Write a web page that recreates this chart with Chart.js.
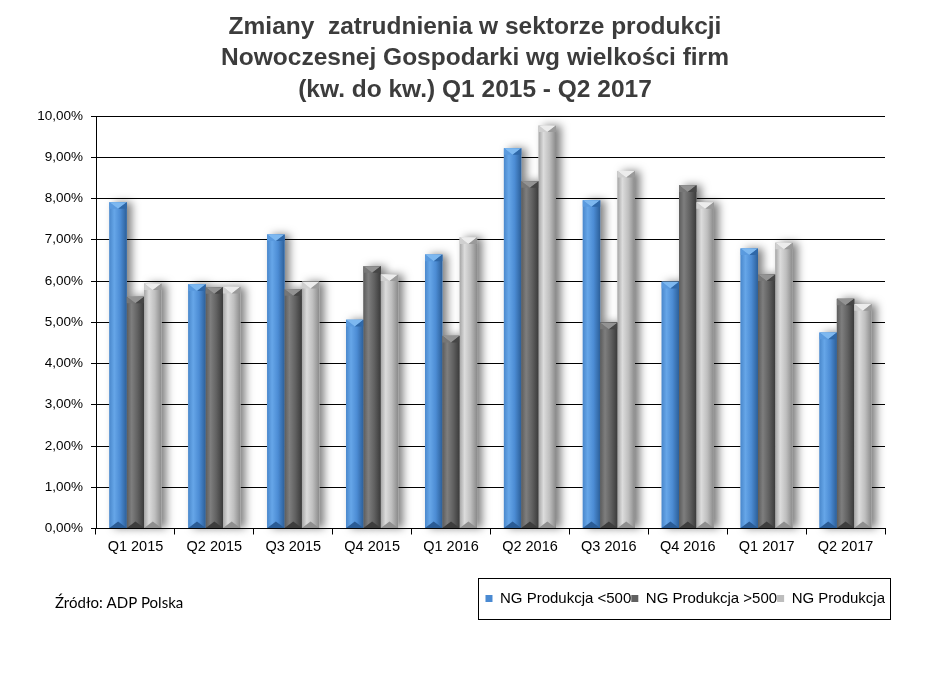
<!DOCTYPE html>
<html>
<head>
<meta charset="utf-8">
<script src="https://cdn.jsdelivr.net/npm/chart.js@4.4.1/dist/chart.umd.min.js"></script>
<style>
  html, body { margin: 0; padding: 0; background: #ffffff; }
  #wrap { position: relative; width: 945px; height: 684px; }
</style>
</head>
<body>
<div id="wrap"><canvas id="c" width="945" height="684"></canvas></div>
<script>
const categories = ['Q1 2015', 'Q2 2015', 'Q3 2015', 'Q4 2015', 'Q1 2016', 'Q2 2016', 'Q3 2016', 'Q4 2016', 'Q1 2017', 'Q2 2017'];
const seriesNames = ['NG Produkcja <500', 'NG Produkcja >500', 'NG Produkcja'];
const smallFirms = [7.91, 5.92, 7.13, 5.06, 6.64, 9.22, 7.96, 5.98, 6.79, 4.75];
const largeFirms = [5.62, 5.85, 5.80, 6.36, 4.67, 8.42, 4.99, 8.32, 6.16, 5.57];
const allFirms   = [5.94, 5.86, 5.98, 6.16, 7.06, 9.77, 8.67, 7.91, 6.93, 5.44];
const titleLines = ['Zmiany  zatrudnienia w sektorze produkcji', 'Nowoczesnej Gospodarki wg wielkości firm', '(kw. do kw.) Q1 2015 - Q2 2017'];
const sourceText = 'Źródło: ADP Polska';

const styles = [
  { base: '#4a8ad2', stops: ['#4a88cc', '#66a6e8', '#4c8cd4', '#2c5f99'], top: '#7db8f0', topL: '#5a9ade', topR: '#2f68a8', bot: '#2b5c95' },
  { base: '#606060', stops: ['#5c5c5c', '#7e7e7e', '#616161', '#3a3a3a'], top: '#939393', topL: '#767676', topR: '#464646', bot: '#3e3e3e' },
  { base: '#bdbdbd', stops: ['#a6a6a6', '#dcdcdc', '#bfbfbf', '#8a8a8a'], top: '#ececec', topL: '#cfcfcf', topR: '#9a9a9a', bot: '#8f8f8f' }
];

const barShadow = {
  id: 'barShadow',
  afterLayout(chart) {
    const t = chart.titleBlock;
    if (t) { t.left = 5; t.right = 945; }
  },
  beforeDatasetsDraw(chart) {
    const ctx = chart.ctx;
    ctx.save();
    ctx.shadowColor = 'rgba(0,0,0,0.5)';
    ctx.shadowBlur = 8;
    ctx.shadowOffsetX = 5;
    ctx.shadowOffsetY = 0;
    ctx.fillStyle = '#ffffff';
    chart.data.datasets.forEach((ds, i) => {
      chart.getDatasetMeta(i).data.forEach(el => {
        const w = el.width;
        ctx.fillRect(el.x - w / 2, el.y, w, el.base - el.y);
      });
    });
    ctx.restore();
  },
  afterDatasetsDraw(chart) {
    const ctx = chart.ctx;
    chart.data.datasets.forEach((ds, i) => {
      const st = styles[i];
      chart.getDatasetMeta(i).data.forEach(el => {
        const w = el.width;
        const x0 = el.x - w / 2, x1 = el.x + w / 2, xm = el.x;
        const y0 = el.y, yb = el.base;
        const g = ctx.createLinearGradient(x0, 0, x1, 0);
        g.addColorStop(0, st.stops[0]);
        g.addColorStop(0.28, st.stops[1]);
        g.addColorStop(0.62, st.stops[2]);
        g.addColorStop(1, st.stops[3]);
        ctx.save();
        ctx.fillStyle = g;
        ctx.fillRect(x0, y0, w, yb - y0);
        const h = Math.min(w * 0.38, (yb - y0) / 3);
        ctx.fillStyle = st.top;
        ctx.beginPath(); ctx.moveTo(x0, y0); ctx.lineTo(x1, y0); ctx.lineTo(xm, y0 + h); ctx.closePath(); ctx.fill();
        ctx.fillStyle = st.topL;
        ctx.beginPath(); ctx.moveTo(x0, y0); ctx.lineTo(xm, y0 + h); ctx.lineTo(x0, y0 + h); ctx.closePath(); ctx.fill();
        ctx.fillStyle = st.topR;
        ctx.beginPath(); ctx.moveTo(x1, y0); ctx.lineTo(x1, y0 + h); ctx.lineTo(xm, y0 + h); ctx.closePath(); ctx.fill();
        ctx.fillStyle = st.bot;
        ctx.beginPath(); ctx.moveTo(x0, yb); ctx.lineTo(x1, yb); ctx.lineTo(xm, yb - h); ctx.closePath(); ctx.fill();
        ctx.restore();
      });
    });
  }
};

const extras = {
  id: 'extras',
  afterDraw(chart) {
    const ctx = chart.ctx;
    const lg = chart.legend;
    if (lg && lg.legendHitBoxes && lg.legendHitBoxes.length) {
      let minL = Infinity, maxR = -Infinity;
      lg.legendHitBoxes.forEach(b => { minL = Math.min(minL, b.left); maxR = Math.max(maxR, b.left + b.width); });
      ctx.save();
      ctx.strokeStyle = '#000';
      ctx.lineWidth = 1;
      ctx.strokeRect(Math.round(minL - 7) + 0.5, Math.round(lg.top - 13) + 0.5, Math.round(maxR - minL + 12), 41);
      ctx.restore();
    }
    ctx.save();
    ctx.font = '15px Lato, "Open Sans", sans-serif';
    ctx.fillStyle = '#000';
    ctx.textBaseline = 'middle';
    ctx.fillText(sourceText, chart.chartArea.left - 41, lg.top + 12);
    ctx.restore();
  }
};

new Chart(document.getElementById('c'), {
  type: 'bar',
  data: {
    labels: categories,
    datasets: [
      { label: seriesNames[0], data: smallFirms, backgroundColor: styles[0].base, borderWidth: 0 },
      { label: seriesNames[1], data: largeFirms, backgroundColor: styles[1].base, borderWidth: 0 },
      { label: seriesNames[2], data: allFirms, backgroundColor: styles[2].base, borderWidth: 0 }
    ]
  },
  options: {
    responsive: false,
    animation: false,
    layout: { padding: { left: 20, right: 60, top: 0, bottom: 68 } },
    datasets: { bar: { categoryPercentage: 0.66, barPercentage: 1.0 } },
    plugins: {
      tooltip: { enabled: false },
      title: {
        display: true,
        text: titleLines,
        color: '#3c3c3c',
        font: { family: '"Liberation Sans", Arial, sans-serif', size: 24.5, weight: 'bold', lineHeight: 1.29 },
        padding: { top: 11, bottom: 10.2 }
      },
      legend: {
        position: 'bottom',
        align: 'end',
        labels: {
          boxWidth: 7,
          boxHeight: 7,
          padding: 0,
          color: '#000',
          font: { family: '"Liberation Sans", Arial, sans-serif', size: 15 }
        }
      }
    },
    scales: {
      x: {
        afterFit(s) { s.height = 62.5; },
        grid: { display: true, drawOnChartArea: false, drawTicks: true, tickLength: 6, color: '#000', offset: true },
        border: { display: true, color: '#000', width: 1 },
        ticks: { color: '#000', padding: 4, font: { family: '"Liberation Sans", Arial, sans-serif', size: 14.5 }, maxRotation: 0 }
      },
      y: {
        min: 0, max: 10,
        afterFit(s) { s.width = 76; },
        grid: { color: '#000', lineWidth: 1, drawTicks: true, tickLength: 5 },
        border: { display: true, color: '#000', width: 1 },
        ticks: {
          stepSize: 1,
          color: '#000',
          padding: 8,
          font: { family: '"Liberation Sans", Arial, sans-serif', size: 13.5 },
          callback: v => v.toFixed(2).replace('.', ',') + '%'
        }
      }
    }
  },
  plugins: [barShadow, extras]
});
</script>
</body>
</html>
